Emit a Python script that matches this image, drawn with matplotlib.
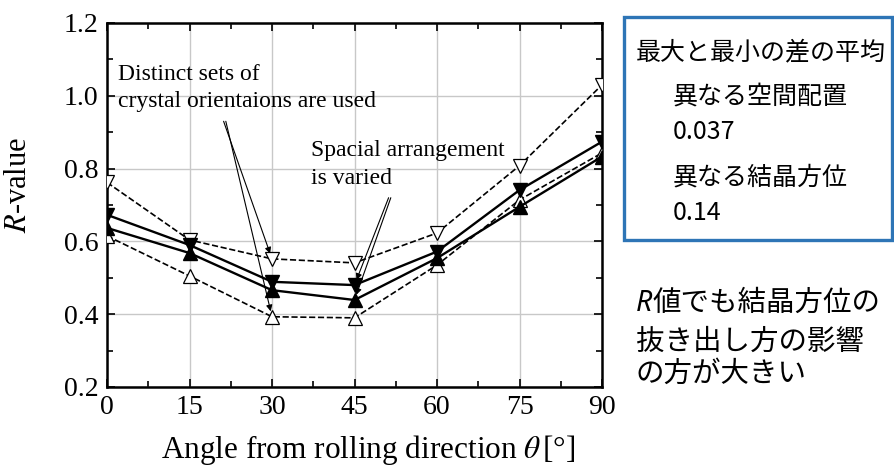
import numpy as np
import matplotlib
matplotlib.use("Agg")
import matplotlib.pyplot as plt
from matplotlib.patches import Rectangle

plt.rcParams['font.family'] = ['Liberation Serif', 'DejaVu Serif']
plt.rcParams['mathtext.fontset'] = 'stix'

# データ
angles = [0, 15, 30, 45, 60, 75, 90]
space_max = [0.673, 0.590, 0.489, 0.480, 0.572, 0.741, 0.874]
space_min = [0.637, 0.568, 0.466, 0.439, 0.554, 0.695, 0.833]
orient_max = [0.762, 0.604, 0.552, 0.541, 0.623, 0.808, 1.030]
orient_min = [0.615, 0.505, 0.393, 0.390, 0.535, 0.714, 0.843]

x_ticks = [0, 15, 30, 45, 60, 75, 90]
y_ticks = [0.2, 0.4, 0.6, 0.8, 1.0, 1.2]

W, H = 894, 470
fig = plt.figure(figsize=(W / 100, H / 100), dpi=100)
ax = fig.add_axes([107 / W, 1 - 387 / H, 495 / W, 364 / H])

# 破線 (結晶方位の違い)
ax.plot(angles, orient_max, 'k--', lw=1.2, marker='v', ms=10, mfc='white', mec='black', mew=0.9, zorder=3)
ax.plot(angles, orient_min, 'k--', lw=1.2, marker='^', ms=10, mfc='white', mec='black', mew=0.9, zorder=3)
# 実線 (空間配置の違い)
ax.plot(angles, space_max, 'k-', lw=1.7, marker='v', ms=10.5, mfc='black', mec='black', zorder=4)
ax.plot(angles, space_min, 'k-', lw=1.7, marker='^', ms=10.5, mfc='black', mec='black', zorder=4)

ax.set_xlim(0, 90)
ax.set_ylim(0.2, 1.2)
ax.set_xticks(x_ticks)
ax.set_yticks(y_ticks)
ax.set_xticks(np.arange(7.5, 90, 15), minor=True)
ax.set_yticks(np.arange(0.3, 1.2, 0.2), minor=True)
ax.set_yticklabels([f"{v:.1f}" for v in y_ticks])
ax.tick_params(which='both', direction='in', top=True, right=True, width=1.2)
ax.tick_params(which='major', length=6, labelsize=20, pad=6)
ax.tick_params(which='minor', length=4)
for s in ax.spines.values():
    s.set_linewidth(1.8)
ax.grid(True, which='major', color='#c8c8c8', lw=1.0, zorder=0)
ax.set_axisbelow(True)

ax.set_ylabel(r"$R$-value", fontsize=22)
ax.set_xlabel(r"Angle from rolling direction $\theta\,$[°]", fontsize=22.5)
ax.yaxis.set_label_coords(-0.15, 0.555)
ax.xaxis.set_label_coords(0.527, -0.126)

# 注釈
arw = dict(arrowstyle='-|>', lw=0.8, color='black', mutation_scale=9, shrinkA=0, shrinkB=4)
ax.text(2.0, 1.088, "Distinct sets of\ncrystal orientaions are used", fontsize=17,
        va='top', ha='left', linespacing=1.4)
ax.annotate("", xy=(30, orient_max[2]), xytext=(21.2, 0.93), arrowprops=arw)
ax.annotate("", xy=(30, orient_min[2]), xytext=(21.6, 0.93), arrowprops=arw)
ax.text(37.0, 0.878, "Spacial arrangement\nis varied", fontsize=17,
        va='top', ha='left', linespacing=1.4)
ax.annotate("", xy=(45, space_max[3]), xytext=(51.2, 0.72), arrowprops=arw)
ax.annotate("", xy=(45, space_min[3]), xytext=(51.6, 0.72), arrowprops=arw)

# 右側の枠とテキスト
jp = ['Noto Sans CJK JP', 'DejaVu Sans']
fig.patches.append(Rectangle((624 / W, 1 - 240 / H), 268 / W, 223 / H, transform=fig.transFigure,
                             fill=False, ec='#2E75B6', lw=2.4))
fig.text(636 / W, 1 - 52 / H, "最大と最小の差の平均", family=jp, fontsize=18, va='center')
fig.text(673 / W, 1 - 97 / H, "異なる空間配置", family=jp, fontsize=18, va='center')
fig.text(673 / W, 1 - 132 / H, "0.037", family=jp, fontsize=18, va='center')
fig.text(673 / W, 1 - 178 / H, "異なる結晶方位", family=jp, fontsize=18, va='center')
fig.text(673 / W, 1 - 213 / H, "0.14", family=jp, fontsize=18, va='center')

r = fig.text(636 / W, 1 - 311 / H, "R", family=['Noto Sans', 'DejaVu Sans'], style='italic',
             fontsize=20.5, va='baseline')
ax.annotate("値でも結晶方位の", xy=(1, 0), xycoords=r, va='bottom', ha='left',
            family=jp, fontsize=20.5, annotation_clip=False)
fig.text(636 / W, 1 - 342 / H, "抜き出し方の影響", family=jp, fontsize=20.5, va='center')
fig.text(636 / W, 1 - 374 / H, "の方が大きい", family=jp, fontsize=20.5, va='center')

fig.savefig("out.png", dpi=100)
